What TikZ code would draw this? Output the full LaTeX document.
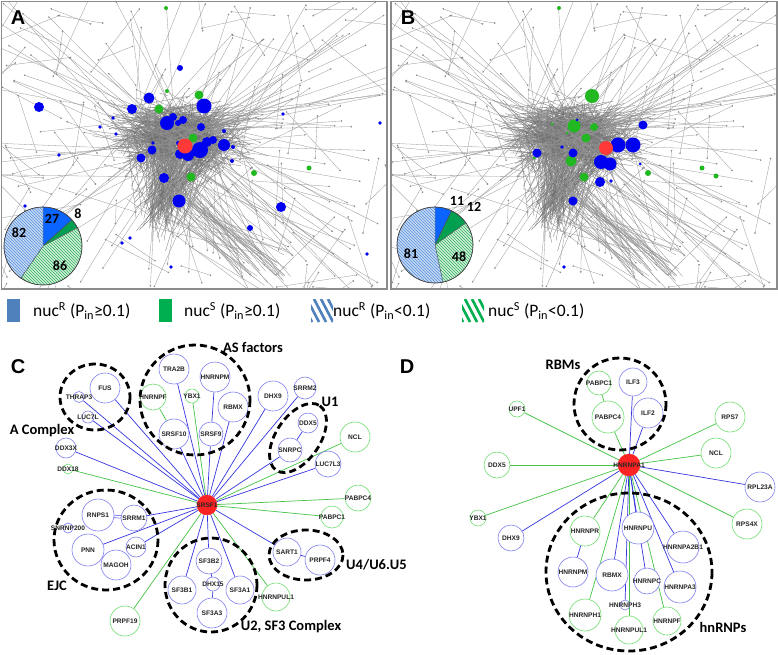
\documentclass[tikz,border=0pt]{standalone}
\usepackage{fontspec}
\setmainfont{Liberation Sans}
\newfontfamily\carl{Carlito}
\usetikzlibrary{patterns}
\pgfdeclarelayer{paper}
\pgfdeclarelayer{bg}
\pgfsetlayers{paper,bg,main}
\definecolor{bline}{HTML}{8080F0}
\definecolor{gline}{HTML}{70DD70}
\definecolor{bedge}{HTML}{3535E0}
\definecolor{gedge}{HTML}{45C445}
\definecolor{rednode}{HTML}{FF2222}
\definecolor{netb}{HTML}{0000F0}
\definecolor{netg}{HTML}{22B822}
\definecolor{netr}{HTML}{FF3838}
\definecolor{pieb}{HTML}{0A64FF}
\definecolor{pieg}{HTML}{00A050}
\definecolor{hbfill}{HTML}{C4DAF6}
\definecolor{hbline}{HTML}{5C8FDC}
\definecolor{hgfill}{HTML}{CDEFD8}
\definecolor{hgline}{HTML}{35B060}
\definecolor{legb}{HTML}{4F81BD}
\definecolor{legg}{HTML}{00B050}
\newcommand{\grnet}{%
\pgfmathsetseed{12345}%
\foreach \i in {1,...,520}{%
 \pgfmathsetmacro{\ax}{180+95*(rand+rand+rand)/3}%
 \pgfmathsetmacro{\ay}{136+50*(rand+rand+rand)/3}%
 \pgfmathsetmacro{\bx}{180+95*(rand+rand+rand)/3}%
 \pgfmathsetmacro{\by}{136+50*(rand+rand+rand)/3}%
 \draw[coreline] (\ax,\ay) -- (\bx,\by);}%
\foreach \i in {1,...,150}{%
 \pgfmathsetmacro{\ax}{182+80*(rand+rand+rand)/3}%
 \pgfmathsetmacro{\ay}{140+45*(rand+rand+rand)/3}%
 \pgfmathsetmacro{\bx}{162+40*(rand+rand+rand)/3}%
 \pgfmathsetmacro{\by}{208+50*(rand+rand+rand)/3}%
 \draw[coreline] (\ax,\ay) -- (\bx,\by);}%
\foreach \i in {1,...,140}{%
 \pgfmathsetmacro{\ax}{182+80*(rand+rand+rand)/3}%
 \pgfmathsetmacro{\ay}{140+45*(rand+rand+rand)/3}%
 \pgfmathsetmacro{\bx}{195+205*rand}%
 \pgfmathsetmacro{\by}{145+150*rand}%
 \draw[netline] (\ax,\ay) -- (\bx,\by);
 \fill[netdot] (\bx,\by) circle (0.9);}%
\foreach \i in {1,...,45}{%
 \pgfmathsetmacro{\ax}{170+50*(rand+rand)/2}%
 \pgfmathsetmacro{\ay}{190+40*(rand+rand)/2}%
 \pgfmathsetmacro{\bx}{265+30*rand}%
 \pgfmathsetmacro{\by}{275+25*rand}%
 \draw[netline] (\ax,\ay) -- (\bx,\by);}%
\foreach \i in {1,...,110}{%
 \pgfmathsetmacro{\ax}{195+205*rand}%
 \pgfmathsetmacro{\ay}{145+150*rand}%
 \pgfmathsetmacro{\bx}{\ax+90*rand}%
 \pgfmathsetmacro{\by}{\ay+80*rand}%
 \draw[netline] (\ax,\ay) -- (\bx,\by);
 \fill[netdot] (\ax,\ay) circle (0.9);
 \fill[netdot] (\bx,\by) circle (0.9);}%
}
\begin{document}
\begin{tikzpicture}[x=1pt,y=-1pt,
  netline/.style={draw=black!42,line width=0.3pt},
  coreline/.style={draw=black!55,line width=0.3pt},
  netdot/.style={fill=black!45},
  frame/.style={draw=black!45,line width=1.2pt},
  bn/.style={circle,draw=bline,fill=white,line width=0.6pt,minimum size=2*#1,inner sep=0pt},
  gn/.style={circle,draw=gline,fill=white,line width=0.6pt,minimum size=2*#1,inner sep=0pt},
  rn/.style={circle,draw=rednode,fill=rednode,minimum size=2*#1,inner sep=0pt},
  nl/.style={font=\bfseries\fontsize{6.6}{7}\selectfont,inner sep=0pt,text=black!85},
  be/.style={draw=bedge,line width=0.7pt},
  ge/.style={draw=gedge,line width=0.7pt},
  grp/.style={draw=black,line width=2.8pt,dash pattern=on 7pt off 4pt},
  glab/.style={font=\carl\bfseries\fontsize{14.5}{15}\selectfont,inner sep=0pt},
  plab/.style={font=\bfseries\fontsize{20}{20}\selectfont,inner sep=0pt},
  pnum/.style={font=\carl\bfseries\fontsize{14}{15}\selectfont,inner sep=0pt},
  leg/.style={font=\carl\fontsize{17.5}{18}\selectfont,inner sep=0pt,anchor=west}]
\useasboundingbox (0,0) rectangle (778,654);
\begin{pgfonlayer}{paper}
\fill[white] (0,0) rectangle (778,654);
\end{pgfonlayer}
% ---------- panel A network
\begin{scope}
\clip (1.5,1.5) rectangle (387,289);
\grnet
\foreach \x/\y/\r in {180/68/3,39/107/5,149/98/5.5,132/109/5,204/106/7.5,167/123/7,173/117/4,183/120/4,178/123/3,201/127/4,113/118/1.8,100/127/1.8,116/134/1.8,59/155/1.8,152/150/4.5,141/158/4.5,153/143/1.8,178/143/2,180/154/5,200/150/8,188/155/6,207/142/5,213/140/4,224/145/6,233/147/2,232/161/2,224/131/2,164/178/5,179/201/6.5,281/207/5,250/228/3,283/114/1.8,380/123/1.8,25/206/1.8,130/238/1.8,122/243/1.8,171/267/1.8,367/254/1.8}
  \fill[netb] (\x,\y) circle (\r);
\foreach \x/\y/\r in {166/8/2,167/91/2,199/95/4.5,159/109/4.5,193/138/4.5,191/177/4.5,254/173/3,309/168/2.5}
  \fill[netg] (\x,\y) circle (\r);
\fill[netr] (185,146) circle (7.5);
\end{scope}
\draw[frame] (1.5,1.5) rectangle (387,289);
% ---------- panel B network
\begin{scope}[xshift=392pt]
\clip (-1,1.5) rectangle (385,289);
\grnet
\end{scope}
\foreach \x/\y/\r in {559/8/2,592/96/7,574/126/6.5,594/127/4,586/138/4.5,571/161/5.5,584/177/4.5,648/173/3,702/168/2.5,716/176/2.5,552/124/1.5,567/133/1.5,534/158/1.5}
  \fill[netg] (\x,\y) circle (\r);
\foreach \x/\y/\r in {643/125/4.5,618/145/7.5,633/145/7.5,601/162/7,610/164/6.5,573/153/4.5,537/153/4.5,562/147/1.8,600/182/5,611/181/1.8,640/164/1.5,573/201/4.5,564/267/1.8,577/120/1.5}
  \fill[netb] (\x,\y) circle (\r);
\fill[netr] (606,148) circle (7);
\draw[frame] (391,1.5) rectangle (777,289);
% ---------- pies
\begin{scope}[shift={(43,246)},y=1pt]
 \filldraw[fill=pieb,draw=black!70,line width=0.4pt] (0,0) -- (90:39) arc[start angle=90,end angle=42.1,radius=39] -- cycle;
 \filldraw[fill=pieg,draw=black!70,line width=0.4pt] (0,0) -- (42.1:39) arc[start angle=42.1,end angle=27.9,radius=39] -- cycle;
 \filldraw[fill=hgfill,draw=black!70,line width=0.4pt,postaction={pattern=north west lines,pattern color=hgline}] (0,0) -- (27.9:39) arc[start angle=27.9,end angle=-124.6,radius=39] -- cycle;
 \filldraw[fill=hbfill,draw=black!70,line width=0.4pt,postaction={pattern=north west lines,pattern color=hbline}] (0,0) -- (-124.6:39) arc[start angle=-124.6,end angle=-270,radius=39] -- cycle;
 \draw[black!75,line width=0.6pt] (0,0) circle (39);
\end{scope}
\begin{scope}[shift={(435,245)},y=1pt]
 \filldraw[fill=pieb,draw=black!70,line width=0.4pt] (0,0) -- (90:38) arc[start angle=90,end angle=64,radius=38] -- cycle;
 \filldraw[fill=pieg,draw=black!70,line width=0.4pt] (0,0) -- (64:38) arc[start angle=64,end angle=35.6,radius=38] -- cycle;
 \filldraw[fill=hgfill,draw=black!70,line width=0.4pt,postaction={pattern=north west lines,pattern color=hgline}] (0,0) -- (35.6:38) arc[start angle=35.6,end angle=-78.1,radius=38] -- cycle;
 \filldraw[fill=hbfill,draw=black!70,line width=0.4pt,postaction={pattern=north west lines,pattern color=hbline}] (0,0) -- (-78.1:38) arc[start angle=-78.1,end angle=-270,radius=38] -- cycle;
 \draw[black!75,line width=0.6pt] (0,0) circle (38);
\end{scope}
\node[pnum] (pa1) at (52,219) {27};
\node[pnum] (pa2) at (78,214) {8};
\node[pnum] (pa3) at (19,233) {82};
\node[pnum] (pa4) at (60,266) {86};
\node[pnum] (pb1) at (457,201) {11};
\node[pnum] (pb2) at (474,207) {12};
\node[pnum] (pb3) at (411,254) {81};
\node[pnum] (pb4) at (459,257) {48};
\node[plab] (lA) at (18,18) {A};
\node[plab] (lB) at (408,18) {B};
% ---------- legend
\fill[legb] (7,299) rectangle (20,322);
\node[leg] (leg1) at (33,311) {nuc\textsuperscript{R} (P\textsubscript{in}≥0.1)};
\fill[legg] (159,299) rectangle (172,322);
\node[leg] (leg2) at (184,311) {nuc\textsuperscript{S} (P\textsubscript{in}≥0.1)};
\begin{scope}
\clip (311,299) rectangle (333,322);
\foreach \k in {-18,-11,...,24} \draw[legb,line width=2.6pt] (311+\k,299) -- (323+\k,322);
\end{scope}
\node[leg] (leg3) at (333,311) {nuc\textsuperscript{R} (P\textsubscript{in}<0.1)};
\begin{scope}
\clip (462,299) rectangle (484,322);
\foreach \k in {-18,-11,...,24} \draw[legg,line width=2.6pt] (462+\k,299) -- (474+\k,322);
\end{scope}
\node[leg] (leg4) at (488,311) {nuc\textsuperscript{S} (P\textsubscript{in}<0.1)};
% ---------- panel C
\node[plab] (lC) at (18,367) {C};
\node[rn=10,label={[nl]center:SRSF1}] (cSRSF1) at (207,505) {};
\node[bn=5.5,label={[nl]center:THRAP3}] (cTHRAP3) at (79,397) {};
\node[bn=15,label={[nl]center:FUS}] (cFUS) at (105,388) {};
\node[bn=6,label={[nl]center:LUC7L}] (cLUC7L) at (88,417) {};
\node[bn=10,label={[nl]center:DDX3X}] (cDDX3X) at (66,448) {};
\node[gn=5,label={[nl]center:DDX18}] (cDDX18) at (68,469) {};
\node[bn=15,label={[nl]center:TRA2B}] (cTRA2B) at (174,369) {};
\node[gn=13,label={[nl]center:HNRNPF}] (cHNRNPF) at (153,397) {};
\node[gn=7,label={[nl]center:YBX1}] (cYBX1) at (192,396) {};
\node[bn=15,label={[nl]center:SRSF10}] (cSRSF10) at (174,434) {};
\node[bn=15,label={[nl]center:HNRNPM}] (cHNRNPM) at (215,377) {};
\node[bn=15,label={[nl]center:RBMX}] (cRBMX) at (233,407) {};
\node[bn=12,label={[nl]center:SRSF9}] (cSRSF9) at (211,434) {};
\node[bn=15,label={[nl]center:DHX9}] (cDHX9) at (273,396) {};
\node[bn=11,label={[nl]center:SRRM2}] (cSRRM2) at (305,388) {};
\node[bn=10,label={[nl]center:DDX5}] (cDDX5) at (308,423) {};
\node[bn=12,label={[nl]center:SNRPC}] (cSNRPC) at (290,450) {};
\node[gn=15,label={[nl]center:NCL}] (cNCL) at (355,437) {};
\node[bn=13,label={[nl]center:LUC7L3}] (cLUC7L3) at (328,464) {};
\node[gn=13,label={[nl]center:PABPC4}] (cPABPC4) at (358,498) {};
\node[gn=11,label={[nl]center:PABPC1}] (cPABPC1) at (332,517) {};
\node[bn=14,label={[nl]center:SART1}] (cSART1) at (287,552) {};
\node[bn=15,label={[nl]center:PRPF4}] (cPRPF4) at (320,560) {};
\node[bn=13,label={[nl]center:SF3B2}] (cSF3B2) at (209,561) {};
\node[bn=7,label={[nl]center:DHX15}] (cDHX15) at (213,584) {};
\node[bn=14,label={[nl]center:SF3A1}] (cSF3A1) at (240,590) {};
\node[bn=15,label={[nl]center:SF3A3}] (cSF3A3) at (212,613) {};
\node[bn=14,label={[nl]center:SF3B1}] (cSF3B1) at (182,590) {};
\node[gn=14,label={[nl]center:HNRNPUL1}] (cHNRNPUL1) at (276,597) {};
\node[bn=16,label={[nl]center:RNPS1}] (cRNPS1) at (98,515) {};
\node[bn=13,label={[nl]center:SRRM1}] (cSRRM1) at (134,518) {};
\node[bn=5,label={[nl]center:SNRNP200}] (cSNRNP200) at (68,528) {};
\node[bn=16,label={[nl]center:PNN}] (cPNN) at (88,550) {};
\node[bn=10,label={[nl]center:ACIN1}] (cACIN1) at (136,547) {};
\node[bn=15,label={[nl]center:MAGOH}] (cMAGOH) at (116,565) {};
\node[gn=15,label={[nl]center:PRPF19}] (cPRPF19) at (125,621) {};
\begin{pgfonlayer}{bg}
\foreach \n in {THRAP3,FUS,LUC7L,DDX3X,TRA2B,SRSF10,SRSF9,RBMX,DHX9,SRRM2,SNRPC,LUC7L3,SART1,SF3B2,SF3A1,SF3B1,SRRM1,ACIN1,PNN}
  \draw[be] (cSRSF1) -- (c\n);
\foreach \n in {DDX18,YBX1,NCL,PABPC4,PABPC1,HNRNPUL1,PRPF19}
  \draw[ge] (cSRSF1) -- (c\n);
\draw[ge] (cHNRNPF) -- (cSRSF10);
\draw[be] (cHNRNPM) -- (cSRSF9);
\draw[be] (cDDX5) -- (cSNRPC);
\draw[be] (cSART1) -- (cPRPF4);
\draw[be] (cSF3B2) -- (cDHX15);
\draw[be] (cDHX15) -- (cSF3A3);
\draw[be,double=white,double distance=2pt,line width=0.5pt] (cRNPS1) -- (cSRRM1);
\end{pgfonlayer}
\draw[grp] (95,397) ellipse [x radius=35,y radius=33];
\draw[grp] (195,400) ellipse [x radius=55,y radius=55];
\draw[grp,rotate around={56:(298,438)}] (298,438) ellipse [x radius=39,y radius=22];
\draw[grp] (306,555) ellipse [x radius=37,y radius=25];
\draw[grp] (211,585) ellipse [x radius=46,y radius=47];
\draw[grp] (106,540) ellipse [x radius=52,y radius=50];
\node[glab] (gA) at (42,431) {A Complex};
\node[glab] (gAS) at (253,348) {AS factors};
\node[glab] (gU1) at (330,402) {U1};
\node[glab,anchor=west] (gU4) at (346,565) {U4/U6.U5};
\node[glab] (gU2) at (291,627) {U2, SF3 Complex};
\node[glab] (gEJC) at (57,586) {EJC};
% ---------- panel D
\node[plab] (lD) at (407,367) {D};
\node[rn=11,label={[nl]center:HNRNPA1}] (dHNRNPA1) at (629,465) {};
\node[gn=8,label={[nl]center:UPF1}] (dUPF1) at (517,409) {};
\node[gn=13,label={[nl]center:DDX5}] (dDDX5) at (497,465) {};
\node[gn=8,label={[nl]center:YBX1}] (dYBX1) at (478,518) {};
\node[bn=13,label={[nl]center:DHX9}] (dDHX9) at (511,538) {};
\node[gn=12,label={[nl]center:PABPC1}] (dPABPC1) at (599,383) {};
\node[bn=14,label={[nl]center:ILF3}] (dILF3) at (633,382) {};
\node[gn=16,label={[nl]center:PABPC4}] (dPABPC4) at (608,417) {};
\node[bn=15,label={[nl]center:ILF2}] (dILF2) at (648,413) {};
\node[gn=15,label={[nl]center:RPS7}] (dRPS7) at (730,417) {};
\node[gn=15,label={[nl]center:NCL}] (dNCL) at (716,453) {};
\node[bn=15,label={[nl]center:RPL23A}] (dRPL23A) at (760,487) {};
\node[gn=15,label={[nl]center:RPS4X}] (dRPS4X) at (747,524) {};
\node[gn=15,label={[nl]center:HNRNPR}] (dHNRNPR) at (585,531) {};
\node[bn=16,label={[nl]center:HNRNPU}] (dHNRNPU) at (638,528) {};
\node[bn=16,label={[nl]center:HNRNPA2B1}] (dHNRNPA2B1) at (683,547) {};
\node[bn=15,label={[nl]center:HNRNPM}] (dHNRNPM) at (573,572) {};
\node[bn=16,label={[nl]center:RBMX}] (dRBMX) at (612,575) {};
\node[bn=13,label={[nl]center:HNRNPC}] (dHNRNPC) at (647,581) {};
\node[bn=16,label={[nl]center:HNRNPA3}] (dHNRNPA3) at (680,587) {};
\node[bn=5,label={[nl]center:HNRNPH3}] (dHNRNPH3) at (625,605) {};
\node[gn=16,label={[nl]center:HNRNPH1}] (dHNRNPH1) at (585,615) {};
\node[gn=14,label={[nl]center:HNRNPUL1}] (dHNRNPUL1) at (629,630) {};
\node[gn=14,label={[nl]center:HNRNPF}] (dHNRNPF) at (667,621) {};
\begin{pgfonlayer}{bg}
\foreach \n in {DHX9,ILF3,ILF2,RPL23A,HNRNPU,HNRNPA2B1,RBMX,HNRNPC,HNRNPA3,HNRNPH3}
  \draw[be] (dHNRNPA1) -- (d\n);
\foreach \n in {UPF1,DDX5,YBX1,PABPC4,RPS7,NCL,RPS4X,HNRNPR,HNRNPH1,HNRNPUL1,HNRNPF}
  \draw[ge] (dHNRNPA1) -- (d\n);
\draw[ge] (dPABPC1) -- (dPABPC4);
\draw[be] (dHNRNPR) -- (dHNRNPM);
\end{pgfonlayer}
\draw[grp] (620,404) ellipse [x radius=46,y radius=46];
\draw[grp] (629,572) ellipse [x radius=83,y radius=79];
\node[glab] (gRBM) at (563,365) {RBMs};
\node[glab] (ghn) at (723,627) {hnRNPs};
\end{tikzpicture}
\end{document}
